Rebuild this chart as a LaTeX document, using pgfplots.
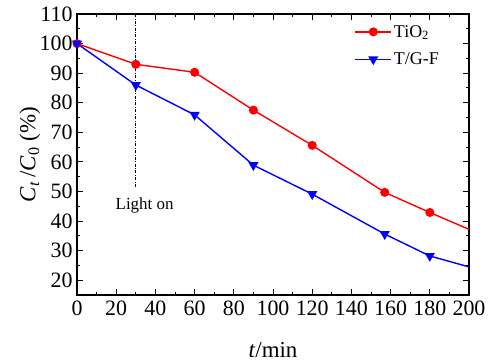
\documentclass[border=0pt]{standalone}
\usepackage{pgfplots}
\pgfplotsset{compat=1.18}
\usepackage{fontspec}
\setmainfont{Liberation Serif}
\begin{document}
\begin{tikzpicture}
\begin{axis}[
  at={(0,0)}, anchor=south west,
  scale only axis, width=392bp, height=281bp,
  xmin=0, xmax=200, ymin=15, ymax=110,
  xtick={0,20,...,200}, ytick={20,30,...,110},
  minor x tick num=1, minor y tick num=1,
  tick align=inside,
  major tick length=6bp, minor tick length=3bp,
  axis line style={line width=1.6bp},
  every tick/.style={black, line width=1bp},
  /pgf/number format/assume math mode=true,
  ticklabel style={font=\fontsize{22}{22}\selectfont},
  xticklabel style={yshift=-2bp},
  yticklabel style={xshift=-1bp},
  xlabel={\textit{t}/min},
  ylabel={\textit{C}\textsubscript{\textit{t}}\,/\textit{C}\textsubscript{0} (\%)},
  label style={font=\fontsize{23}{23}\selectfont},
  xlabel style={at={(axis description cs:0.5,-0.196)}, anchor=center},
  ylabel style={at={(axis description cs:-0.12,0.5)}, anchor=center},
  legend style={at={(0.70,0.975)}, anchor=north west, draw=none, fill=none,
    font=\fontsize{18}{20}\selectfont, row sep=10bp},
  legend cell align=left,
  legend image code/.code={\draw[mark repeat=2,mark phase=2] plot coordinates {(0bp,0bp)(18bp,0bp)(36bp,0bp)};},
]
\addplot[black, line width=0.6bp, dash pattern=on 3bp off 1.5bp on 0.8bp off 1.5bp, forget plot] coordinates {(30,51.5) (30,110)};
\addplot[red, line width=1.4bp, no marks, forget plot] coordinates {(180,42.9) (200,37.2)};
\addplot[blue, line width=1.4bp, no marks, forget plot] coordinates {(180,28.2) (200,24.5)};
\addplot[red, line width=1.4bp, mark=*, mark size=3.8bp] coordinates {
  (0,100) (30,93) (60,90.3) (90,77.5) (120,65.6) (157,49.7) (180,42.9)};
\addlegendentry{TiO\textsubscript{2}}
\addplot[blue, line width=1.4bp, mark=triangle*, mark size=4.5bp, mark options={rotate=180}] coordinates {
  (0,100) (30,86) (60,75.9) (90,58.9) (120,49.1) (157,35.6) (180,28.2)};
\addlegendentry{T/G-F}
\node[font=\fontsize{17}{17}\selectfont] at (axis cs:34.5,45.4) {Light on};
\end{axis}
\pgfresetboundingbox
\path (-77bp,-68bp) rectangle (417bp,295bp);
\end{tikzpicture}
\end{document}
